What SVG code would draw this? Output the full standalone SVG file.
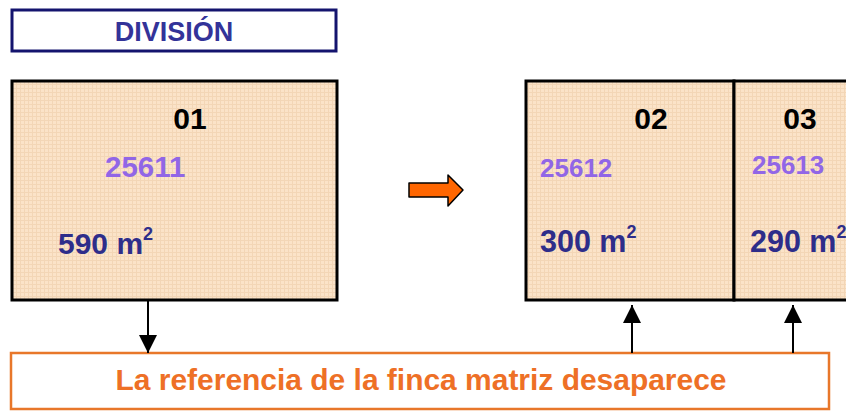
<svg xmlns="http://www.w3.org/2000/svg" width="846" height="412" viewBox="0 0 846 412">
<defs>
<pattern id="grid" width="4" height="4" patternUnits="userSpaceOnUse">
<rect width="4" height="4" fill="#fbe3c8"/>
<path d="M0 0.5H4M0.5 0V4" stroke="#f3d6b6" stroke-width="1"/>
</pattern>
<marker id="ah" viewBox="0 0 10 10" refX="10" refY="5" markerWidth="18" markerHeight="18" markerUnits="userSpaceOnUse" orient="auto">
<path d="M0 0L10 5L0 10Z" fill="#000"/>
</marker>
<style>
text{font-family:"Liberation Sans",Arial,sans-serif;font-weight:bold}
.lot{fill:url(#grid);stroke:#000;stroke-width:3}
.num{font-size:30px;fill:#000;text-anchor:middle}
.ref{fill:#9166e6}
.area{fill:#2e2d8a}
.conn{stroke:#000;stroke-width:2;fill:none;marker-end:url(#ah)}
</style>
</defs>
<rect width="846" height="412" fill="#fff"/>
<g id="title">
<rect x="12" y="10" width="324" height="41" fill="#fff" stroke="#14146e" stroke-width="3"/>
<text x="174" y="41" font-size="27" fill="#333399" text-anchor="middle">DIVISIÓN</text>
</g>
<g id="finca01">
<rect class="lot" x="12" y="81" width="325" height="219"/>
<text class="num" x="190" y="129">01</text>
<text class="ref" x="105" y="177" font-size="29.5">25611</text>
<text class="area" x="58" y="254" font-size="30">590 m<tspan font-size="18" dy="-14">2</tspan></text>
</g>
<g id="flecha">
<path d="M409 183H448V175L463 190L448 206V197H409Z" fill="#ff6600" stroke="#000" stroke-width="1.5" stroke-linejoin="round"/>
</g>
<g id="finca02">
<rect class="lot" x="526" y="81" width="208" height="219"/>
<text class="num" x="651" y="129">02</text>
<text class="ref" x="540" y="177" font-size="26">25612</text>
<text class="area" x="540" y="252" font-size="30.5">300 m<tspan font-size="18" dy="-14">2</tspan></text>
</g>
<g id="finca03">
<rect class="lot" x="734" y="81" width="130" height="219"/>
<text class="num" x="800" y="129">03</text>
<text class="ref" x="752" y="174" font-size="26">25613</text>
<text class="area" x="750" y="252" font-size="30.5">290 m<tspan font-size="18" dy="-14">2</tspan></text>
</g>
<g id="nota">
<rect x="11" y="353" width="818" height="56" fill="#fff" stroke="#e8772a" stroke-width="2.5"/>
<text x="421" y="390" font-size="29" fill="#ee7026" text-anchor="middle" textLength="611" lengthAdjust="spacingAndGlyphs">La referencia de la finca matriz desaparece</text>
</g>
<g id="connectors">
<line class="conn" x1="148" y1="301" x2="148" y2="353"/>
<line class="conn" x1="632" y1="353" x2="632" y2="305"/>
<line class="conn" x1="793" y1="353" x2="793" y2="305"/>
</g>
</svg>
